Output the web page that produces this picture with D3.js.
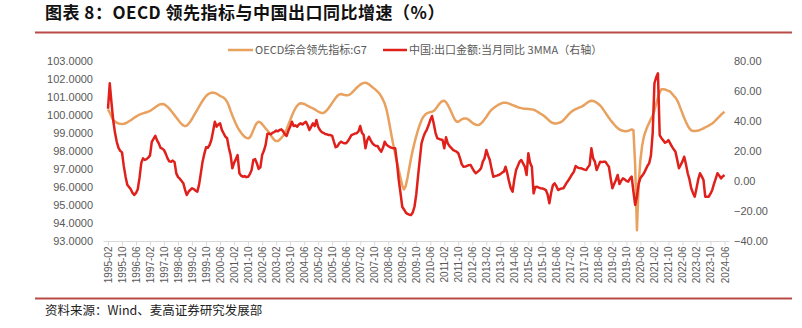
<!DOCTYPE html>
<html><head><meta charset="utf-8">
<script src="https://cdn.jsdelivr.net/npm/d3@7"></script>
<style>
html,body{margin:0;padding:0;background:#fff;}
svg{display:block;}
</style></head>
<body>
<svg id="chart" width="802" height="328"></svg>
<script>
// ---- DATA ----
const startMonth = "1995-02";
const endMonth = "2024-06";
const seriesNames = ["OECD综合领先指标:G7", "中国:出口金额:当月同比 3MMA（右轴）"];
// OECD composite leading indicator G7 (left axis), monthly 1995-02 .. 2024-06
const oecdG7 = [
 100.30,100.12,99.90,99.72,99.62,99.56,99.52,99.50,99.49,99.50,99.53,
 99.58,99.64,99.70,99.77,99.84,99.90,99.96,100.01,100.05,100.08,100.11,100.14,
 100.18,100.22,100.28,100.35,100.42,100.49,100.55,100.59,100.60,100.58,100.52,100.44,
 100.34,100.22,100.10,99.98,99.85,99.72,99.60,99.49,99.41,99.37,99.40,99.50,
 99.63,99.78,99.95,100.12,100.28,100.45,100.62,100.78,100.92,101.04,101.13,101.19,
 101.22,101.23,101.21,101.17,101.11,101.05,101.00,100.95,100.87,100.72,100.50,100.22,
 99.96,99.72,99.50,99.30,99.14,99.00,98.88,98.78,98.72,98.69,98.75,98.92,
 99.15,99.38,99.55,99.62,99.58,99.48,99.36,99.24,99.13,99.00,98.86,98.72,
 98.60,98.54,98.55,98.62,98.72,98.84,98.98,99.20,99.45,99.70,99.95,100.17,
 100.36,100.50,100.60,100.64,100.63,100.60,100.55,100.50,100.45,100.40,100.36,100.30,
 100.24,100.18,100.13,100.10,100.10,100.16,100.26,100.38,100.52,100.66,100.80,100.94,
 101.05,101.12,101.15,101.13,101.10,101.09,101.09,101.12,101.20,101.30,101.40,101.50,
 101.59,101.67,101.73,101.77,101.78,101.75,101.69,101.61,101.53,101.45,101.37,101.28,
 101.17,101.02,100.84,100.62,100.30,99.85,99.32,98.78,98.28,97.80,97.36,96.93,
 96.50,96.08,95.86,96.05,96.50,97.05,97.58,98.04,98.45,98.82,99.15,99.45,
 99.70,99.88,100.00,100.08,100.12,100.15,100.17,100.22,100.32,100.45,100.58,100.70,
 100.76,100.78,100.70,100.55,100.36,100.15,99.93,99.74,99.62,99.62,99.68,99.75,
 99.79,99.80,99.78,99.72,99.64,99.56,99.49,99.45,99.43,99.45,99.52,99.62,
 99.75,99.88,100.03,100.17,100.28,100.36,100.43,100.50,100.56,100.61,100.65,100.67,
 100.67,100.65,100.62,100.58,100.54,100.50,100.46,100.42,100.39,100.37,100.35,100.34,
 100.33,100.32,100.31,100.30,100.28,100.24,100.18,100.12,100.06,100.00,99.93,99.85,
 99.76,99.67,99.59,99.54,99.52,99.52,99.54,99.57,99.62,99.70,99.80,99.91,
 100.02,100.12,100.20,100.26,100.31,100.36,100.40,100.44,100.48,100.55,100.63,100.70,
 100.75,100.78,100.77,100.73,100.67,100.60,100.52,100.40,100.26,100.12,99.97,99.83,
 99.70,99.58,99.46,99.35,99.26,99.19,99.14,99.11,99.09,99.09,99.11,99.15,
 99.19,99.15,97.20,93.60,96.20,97.50,98.30,98.80,99.10,99.35,99.55,99.78,
 99.95,100.25,100.60,100.95,101.25,101.41,101.42,101.40,101.37,101.33,101.28,101.18,
 101.05,100.95,100.80,100.58,100.33,100.07,99.82,99.60,99.40,99.24,99.14,99.10,
 99.10,99.11,99.13,99.16,99.20,99.25,99.30,99.35,99.40,99.46,99.52,99.60,
 99.70,99.80,99.90,100.00,100.09,100.17
];
// China exports, monthly YoY, 3-month moving average (right axis, %)
const chinaExports3mma = [
 48,65,52,40,32,26,22,20,19,10,3,
 -2.5,-4,-5.5,-8,-9.4,-8,-5.5,2,12,15,14,14.5,
 15.5,17,26,28,30,27,25,22,21.5,20.5,18,15,
 13,12.8,13.5,12.5,5,2.5,1.5,0,-1.5,-6,-9.4,-7.2,
 -6,-4.9,-5.5,-6.5,-7.2,-2.5,5,12.8,18,22.4,22,23.9,
 27.2,33,39.4,36.1,37.5,38.3,34,31.7,29.5,28.4,22,17.2,
 8.4,12,14.5,17.2,5.1,3.5,2.8,3.2,2.5,2.8,4.5,7.3,
 14,14.5,11.7,8,9,17.2,20,24,31.2,31.5,31,32.1,
 32.5,33.5,33,33.9,34.3,33,31,29.9,33.5,36,39.4,36.5,
 37,36.1,37.5,38.3,37.5,38.5,39.4,37,33.9,36,38.3,36.5,
 40.5,36,33.9,32.5,32,31.2,31,30.5,30.5,29.9,26,22.4,
 23,25,26.1,25.5,25,25,26.5,28.5,30.5,31,31.5,31.7,
 33,36.5,32,30.5,21.7,27,29.4,27,25,23.9,23.2,23.2,
 21,19.4,22,26.1,24,23.2,22.5,22,21.7,21.7,12,0.6,
 -8,-17.2,-19,-21,-22,-22.5,-22.7,-21,-17.2,-9,2.8,14,
 25,29,32,34,37,40.5,43.2,38,32,28.4,28,27.5,
 27.2,21.7,29,25,23.2,22,20.6,20,19.5,18.4,15,11,
 9.4,9.5,10,10.5,10.6,8.5,6.5,5.1,6,7,8.4,12.8,
 15,20.6,17,13.9,8,2.8,3.2,3.5,3.9,4.5,5.5,6.1,
 9.4,5,-0.5,-5,-7.2,1,7.3,10,12.8,13.9,11.7,9.4,
 3.9,18.4,12,9.4,-8.3,-4,-3.9,-4.5,-4.9,-5,-5.5,-6.1,
 -9,-14.9,-8,-3,-1.6,-3.5,-6.1,-5.5,-5,-4.9,-3,-1,
 0.6,2.5,4.5,6.1,9.9,9,8.5,8.4,8,7.5,7.3,9,
 10.6,21.7,15,12.8,7.3,10,12.8,12.5,12.8,12.8,11,9.4,
 1.7,-4.9,-2,0.6,3.9,-2.1,0,1.7,1,0,-0.5,1.5,
 2.8,-7.2,-16,-10.5,-2,2,3.5,5.1,7.5,10,11.7,17,
 32,65,69,71.6,30.5,28.4,27,25.4,26,27.2,25,22.8,
 21,19.4,14,8.4,10.6,13,16.1,11,5.1,1,-4.9,-8,
 -10.5,-5,1,5.1,3,0.6,-10.5,-10.5,-10.5,-8.5,-6,-2,
 1.5,5.1,3.5,1.7,3,3.9
];
const xTickLabels = ["1995-02","1995-10","1996-06","1997-02","1997-10","1998-06","1999-02","1999-10","2000-06","2001-02","2001-10","2002-06","2003-02","2003-10","2004-06","2005-02","2005-10","2006-06","2007-02","2007-10","2008-06","2009-02","2009-10","2010-06","2011-02","2011-10","2012-06","2013-02","2013-10","2014-06","2015-02","2015-10","2016-06","2017-02","2017-10","2018-06","2019-02","2019-10","2020-06","2021-02","2021-10","2022-06","2023-02","2023-10","2024-06"];
const leftTicks = [93,94,95,96,97,98,99,100,101,102,103];
const rightTicks = [-40,-20,0,20,40,60,80];

// ---- BUILD ----
const parseM = d3.timeParse("%Y-%m"), fmtM = d3.timeFormat("%Y-%m");
const months = d3.timeMonth.range(parseM(startMonth), d3.timeMonth.offset(parseM(endMonth),1)).map(fmtM);

const svg = d3.select("#chart");
const FONT_CJK = "'Noto Sans CJK SC','Noto Sans',sans-serif";
const FONT_NUM = "'Liberation Sans',Arial,sans-serif";

const x = d3.scalePoint().domain(months).range([108, 724.5]);
const yL = d3.scaleLinear().domain([93,103]).range([241, 60.7]);
const yR = d3.scaleLinear().domain([-40,80]).range([241, 60.7]);

// title
svg.append("text").attr("x",45).attr("y",19)
  .attr("font-family",FONT_CJK).attr("font-weight",700).attr("font-size",17).attr("fill","#111")
  .attr("letter-spacing",0.5)
  .text("图表 8：OECD 领先指标与中国出口同比增速（%）");
svg.append("line").attr("x1",35).attr("x2",792).attr("y1",32.5).attr("y2",32.5)
  .attr("stroke","#b94a48").attr("stroke-width",2);
svg.append("line").attr("x1",35).attr("x2",792).attr("y1",298.5).attr("y2",298.5)
  .attr("stroke","#b94a48").attr("stroke-width",2);
svg.append("text").attr("x",45).attr("y",315)
  .attr("font-family",FONT_CJK).attr("font-size",12.5).attr("fill","#222")
  .text("资料来源：Wind、麦高证券研究发展部");

// legend
const legend = [
  {name: seriesNames[0], color:"#E8A15E", x1:228, x2:253},
  {name: seriesNames[1], color:"#E0201B", x1:383, x2:407}
];
legend.forEach(l=>{
  svg.append("line").attr("x1",l.x1).attr("x2",l.x2).attr("y1",50).attr("y2",50)
    .attr("stroke",l.color).attr("stroke-width",2.5);
  svg.append("text").attr("x",l.x2+2).attr("y",50).attr("dy","0.35em")
    .attr("font-family",FONT_CJK).attr("font-size",11).attr("fill","#595959").text(l.name);
});

// left axis
const gL = svg.append("g").attr("transform","translate(97,0)")
  .call(d3.axisLeft(yL).tickValues(leftTicks).tickFormat(d3.format(".4f")).tickSize(0).tickPadding(4));
gL.select(".domain").remove();
gL.selectAll("text").attr("font-family",FONT_NUM).attr("font-size",11).attr("fill","#595959");

// right axis
const gR = svg.append("g").attr("transform","translate(730,0)")
  .call(d3.axisRight(yR).tickValues(rightTicks).tickFormat(d3.format(".2f")).tickSize(0).tickPadding(4));
gR.select(".domain").remove();
gR.selectAll("text").attr("font-family",FONT_NUM).attr("font-size",11).attr("fill","#595959");

// bottom axis
const gX = svg.append("g").attr("transform","translate(0,241.5)")
  .call(d3.axisBottom(x).tickValues(xTickLabels).tickSize(4).tickSizeOuter(0));
gX.select(".domain").attr("stroke","#d9d9d9").attr("d","M103.5,0H729.5");
gX.selectAll(".tick line").attr("stroke","#d9d9d9");
gX.selectAll("text").attr("font-family",FONT_NUM).attr("font-size",10).attr("fill","#595959")
  .attr("transform","rotate(-90)").attr("text-anchor","end").attr("x",-5).attr("y",0).attr("dy","0.35em");

// lines
const lineL = d3.line().x((d,i)=>x(months[i])).y(d=>yL(d));
const lineR = d3.line().x((d,i)=>x(months[i])).y(d=>yR(d));
svg.append("path").datum(oecdG7).attr("d",lineL).attr("fill","none")
  .attr("stroke","#E8A15E").attr("stroke-width",2.5).attr("stroke-linejoin","round");
svg.append("path").datum(chinaExports3mma).attr("d",lineR).attr("fill","none")
  .attr("stroke","#E0201B").attr("stroke-width",2.5).attr("stroke-linejoin","round");
</script>
</body></html>
